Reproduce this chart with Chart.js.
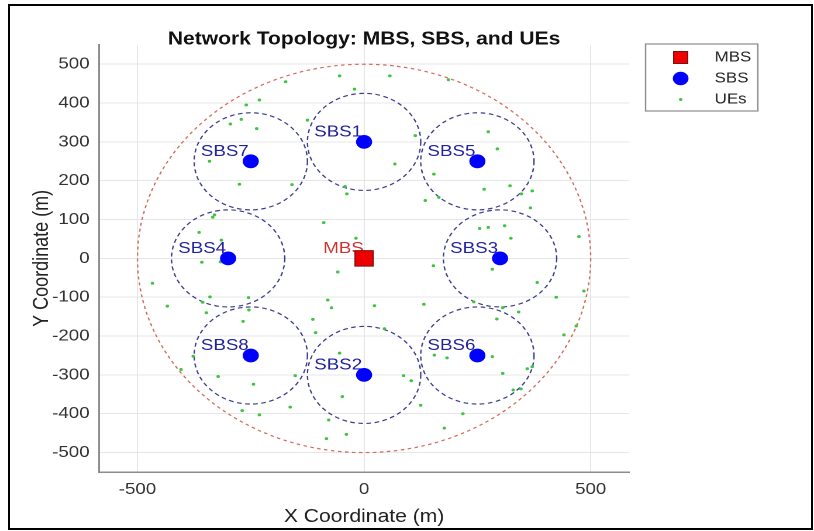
<!DOCTYPE html>
<html>
<head>
<meta charset="utf-8">
<script src="https://cdn.jsdelivr.net/npm/chart.js@4.4.1/dist/chart.umd.min.js"></script>
<style>
  html, body { margin: 0; padding: 0; background: #fff; }
  body { width: 814px; height: 531px; overflow: hidden; position: relative; }
  /* the reference figure is stretched sideways, so the canvas is too */
  #stretch { position: absolute; left: 0; top: 0; width: 696px; height: 531px; transform: scaleX(1.1695); transform-origin: 0 0; }
  #frame { position: absolute; left: 8px; top: 4px; width: 805px; height: 526px; border: 2px solid #000; box-sizing: border-box; pointer-events: none; }
</style>
</head>
<body>
<div id="stretch"><canvas id="topo" width="696" height="531"></canvas></div>
<div id="frame"></div>
<script>
(() => {
  "use strict";

  // base stations
  const mbsX = [0];
  const mbsY = [0];
  const sbsNames = [`SBS1`, `SBS2`, `SBS3`, `SBS4`, `SBS5`, `SBS6`, `SBS7`, `SBS8`];
  const sbsX = [0, 0, 300, -300, 250, 250, -250, -250];
  const sbsY = [300, -300, 0, 0, 250, -250, 250, -250];
  const macroRadius = 500;
  const sbsRadius = 125;

  // user equipment
  const ueX = [-54, -21, -173, -260, -231, -295, -271, -237, -125, -341, -275, -159, -42, -38, -330, -334, -89, -364, -315, -18,
    57, 186, 274, 294, 113, 68, 154, 265, 322, 371, 347, 367, 135, 165, 255, 274, 310, 324, 474,
    -358, -317, -58, -467, -434, -340, -356, -348, -255, -254, -267, -80, -72, 23, -113, -107, -54, -377, -404, -322, -244,
    -152, -163, -269, -231, -48, -78, -39, -83,
    153, 283, 382, 424, 485, 132, 242, 306, 341, 293, 45, 441, 468, 155, 183, 283, 360, 371, 306, 87, 104, 329, 346, 125, 218, 177];
  const ueY = [470, 436, 455, 395, 408, 346, 358, 334, 356, 250, 191, 190, 185, 166, 112, 106, 92, 67, 47, 52,
    470, 460, 326, 282, 316, 243, 217, 178, 187, 174, 166, 130, 149, 157, 77, 80, 84, 52, 56,
    -10, -9, -35, -64, -123, -99, -113, -140, -101, -133, -162, -107, -127, -122, -157, -191, -244, -252, -286, -304, -324,
    -302, -383, -392, -403, -356, -416, -453, -464,
    -19, -28, -62, -100, -84, -118, -112, -127, -138, -156, -181, -197, -174, -249, -256, -253, -284, -279, -296, -302, -315, -339, -336, -378, -400, -437];

  const xTicks = [-500, 0, 500];
  const yTicks = [-500, -400, -300, -200, -100, 0, 100, 200, 300, 400, 500];

  const font = `"Liberation Sans", Arial, Helvetica, sans-serif`;
  const pts = (xs, ys) => xs.map((v, i) => ({ x: v, y: ys[i] }));

  // coverage circles, station labels and the boxed legend
  const topology = {
    id: `topology`,
    beforeDatasetsDraw(chart) {
      const { ctx, chartArea: a, scales: { x, y } } = chart;
      ctx.save();
      ctx.beginPath();
      ctx.rect(a.left, a.top, a.width, a.height);
      ctx.clip();
      const ring = (cx, cy, r, color, dash) => {
        const px = x.getPixelForValue(cx), py = y.getPixelForValue(cy);
        const rx = Math.abs(x.getPixelForValue(cx + r) - px);
        const ry = Math.abs(y.getPixelForValue(cy + r) - py);
        ctx.beginPath();
        ctx.setLineDash(dash);
        ctx.strokeStyle = color;
        ctx.lineWidth = 1.2;
        ctx.ellipse(px, py, rx, ry, 0, 0, Math.PI * 2);
        ctx.stroke();
      };
      ring(mbsX[0], mbsY[0], macroRadius, `#d36b5c`, [3, 3]);
      sbsX.forEach((sx, i) => ring(sx, sbsY[i], sbsRadius, `#3d3d8e`, [4, 3]));
      ctx.setLineDash([]);
      ctx.font = `16px ${font}`;
      ctx.textAlign = `left`;
      ctx.textBaseline = `middle`;
      ctx.fillStyle = `#cc3333`;
      ctx.fillText(`MBS`, x.getPixelForValue(mbsX[0] - 90), y.getPixelForValue(mbsY[0] + 25));
      ctx.fillStyle = `#22229c`;
      sbsNames.forEach((n, i) => ctx.fillText(n, x.getPixelForValue(sbsX[i] - 110), y.getPixelForValue(sbsY[i] + 25)));
      ctx.restore();
    },
    afterDraw(chart) {
      const { ctx } = chart;
      const lx = 552, ly = 44, lw = 96, lh = 67;
      ctx.save();
      ctx.fillStyle = `#fff`;
      ctx.fillRect(lx, ly, lw, lh);
      ctx.strokeStyle = `#8c8c8c`;
      ctx.lineWidth = 1.2;
      ctx.strokeRect(lx, ly, lw, lh);
      ctx.font = `14.5px ${font}`;
      ctx.textAlign = `left`;
      ctx.textBaseline = `middle`;
      chart.data.datasets.forEach((ds, i) => {
        const my = ly + 13.5 + i * 21, mx = 582;
        ctx.fillStyle = ds.backgroundColor;
        ctx.beginPath();
        if (ds.pointStyle === `rect`) {
          ctx.rect(mx - 6, my - 6, 12, 12);
          ctx.fill();
          ctx.strokeStyle = ds.borderColor;
          ctx.lineWidth = 1;
          ctx.stroke();
        } else {
          ctx.arc(mx, my, i === 1 ? 6.7 : 1.5, 0, Math.PI * 2);
          ctx.fill();
        }
        ctx.fillStyle = `#262626`;
        ctx.fillText(ds.label, 611, my);
      });
      ctx.restore();
    },
  };

  const cfg = {
    type: `scatter`,
    data: {
      datasets: [
        {
          label: `MBS`,
          data: pts(mbsX, mbsY),
          pointStyle: `rect`,
          pointRadius: 11,
          backgroundColor: `#ee0000`,
          borderColor: `#7a1010`,
          borderWidth: 1,
        },
        {
          label: `SBS`,
          data: pts(sbsX, sbsY),
          pointStyle: `circle`,
          pointRadius: 6.9,
          backgroundColor: `#0000ff`,
          borderColor: `#0000ff`,
          borderWidth: 0,
        },
        {
          label: `UEs`,
          data: pts(ueX, ueY),
          pointStyle: `circle`,
          pointRadius: 1.5,
          backgroundColor: `#3fc43f`,
          borderColor: `#3fc43f`,
          borderWidth: 0,
        },
      ],
    },
    options: {
      responsive: false,
      animation: false,
      devicePixelRatio: 2,
      layout: { padding: { left: 0, right: 158, top: 0, bottom: 0 } },
      plugins: {
        legend: { display: false },
        tooltip: { enabled: false },
        title: {
          display: true,
          fullSize: false,
          text: `Network Topology: MBS, SBS, and UEs`,
          color: `#111`,
          font: { family: font, size: 18, weight: `bold`, lineHeight: 0.6 },
          padding: { top: 34, bottom: 0 },
        },
      },
      scales: {
        x: {
          type: `linear`,
          position: `bottom`,
          min: -585,
          max: 585,
          afterBuildTicks: (s) => { s.ticks = xTicks.map((v) => ({ value: v })); },
          afterFit: (s) => { s.height = 59; },
          grid: { color: `#e6e6e6`, lineWidth: 1, drawTicks: false },
          border: { color: `#8c8c8c`, width: 1.5 },
          ticks: { padding: 8, color: `#333`, font: { family: font, size: 16 } },
          title: {
            display: true,
            text: `X Coordinate (m)`,
            color: `#222`,
            font: { family: font, size: 18 },
            padding: { top: 0, bottom: 3 },
          },
        },
        y: {
          type: `linear`,
          min: -550,
          max: 550,
          afterBuildTicks: (s) => { s.ticks = yTicks.map((v) => ({ value: v })); },
          afterFit: (s) => { s.width = 84.6; },
          grid: { color: `#e6e6e6`, lineWidth: 1, drawTicks: false },
          border: { color: `#8c8c8c`, width: 1.5 },
          ticks: { padding: 8, color: `#333`, font: { family: font, size: 16 } },
          title: {
            display: true,
            text: `Y Coordinate (m)`,
            color: `#222`,
            font: { family: font, size: 18 },
            padding: { top: 25, bottom: 0 },
          },
        },
      },
    },
    plugins: [topology],
  };

  new Chart(document.getElementById(`topo`), cfg);
})();
</script>
</body>
</html>
